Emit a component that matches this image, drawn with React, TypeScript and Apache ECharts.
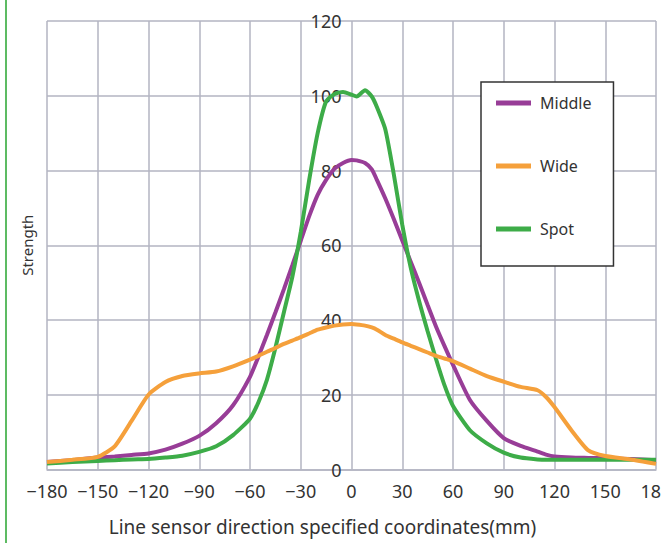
import React, { useEffect, useRef } from "react";
import * as echarts from "echarts";

const xCoords = [-180, -165, -150, -140, -130, -120, -110, -100, -90, -80, -70, -60, -55, -50, -45, -40, -35, -30, -25, -20, -15, -10, -5, 0, 3, 8, 12, 15, 20, 25, 30, 35, 40, 45, 50, 55, 60, 70, 80, 90, 100, 110, 115, 120, 130, 140, 150, 165, 180];

const middleValues = [2.0, 2.5, 3.2, 3.5, 3.9, 4.3, 5.3, 6.9, 9.0, 12.4, 17.2, 24.8, 30.2, 36.0, 42.0, 48.2, 54.6, 61.2, 67.8, 73.5, 77.5, 80.5, 82.0, 82.8, 82.7, 82.0, 80.3, 77.5, 72.5, 67.0, 61.3, 55.6, 49.9, 44.0, 38.2, 33.0, 28.0, 18.6, 13.0, 8.4, 6.3, 4.8, 4.0, 3.5, 3.2, 3.1, 3.0, 2.8, 2.5];

const wideValues = [2.0, 2.6, 3.4, 6.2, 13.0, 20.0, 23.4, 25.0, 25.7, 26.2, 27.6, 29.4, 30.4, 31.5, 32.5, 33.6, 34.5, 35.4, 36.4, 37.4, 38.0, 38.5, 38.8, 38.9, 38.8, 38.5, 38.0, 37.4, 36.0, 35.0, 34.0, 33.1, 32.2, 31.3, 30.4, 29.7, 29.0, 27.0, 25.0, 23.5, 22.1, 21.2, 19.4, 16.7, 10.5, 5.1, 3.6, 2.7, 1.5];

const spotValues = [1.6, 2.0, 2.3, 2.5, 2.7, 2.8, 3.2, 3.7, 4.7, 6.2, 9.2, 13.6, 18.0, 24.0, 32.5, 42.0, 51.5, 63.5, 77.5, 90.0, 98.5, 100.5, 101.0, 100.3, 99.8, 101.5, 99.8, 97.0, 91.0, 79.0, 65.5, 54.0, 45.0, 37.0, 29.5, 22.5, 17.0, 10.5, 7.0, 4.5, 3.2, 2.7, 2.6, 2.6, 2.6, 2.6, 2.6, 2.6, 2.6];

const seriesNames = ["Middle", "Wide", "Spot"];
const seriesColors = ["#983d97", "#f5a03b", "#3dac48"];
const xAxisTitle = "Line sensor direction specified coordinates(mm)";
const yAxisTitle = "Strength";

const FONT = "Noto Sans";

export default function App() {
  const ref = useRef<HTMLDivElement>(null);

  useEffect(() => {
    const chart = echarts.init(ref.current as HTMLDivElement, null, { renderer: "svg" });
    const pair = (vals: number[]) => xCoords.map((x, i) => [x, vals[i]]);
    const mkSeries = (idx: number, vals: number[]) => ({
      name: seriesNames[idx],
      type: "line",
      data: pair(vals),
      showSymbol: false,
      smooth: 0.2,
      lineStyle: { color: seriesColors[idx], width: 4 },
      itemStyle: { color: seriesColors[idx] },
    });
    const gridColor = "#b3b5c2";
    const gridLeft = 47;
    const gridRight = 5;
    const plotWidth = 661 - gridLeft - gridRight;
    chart.setOption({
      animation: false,
      backgroundColor: "#ffffff",
      textStyle: { fontFamily: FONT },
      grid: { left: gridLeft, right: gridRight, top: 21, bottom: 73.5, containLabel: false, outerBoundsMode: "none" },
      legend: {
        orient: "vertical",
        left: 481,
        top: 82,
        data: seriesNames,
        icon: "rect",
        itemWidth: 35,
        itemHeight: 5,
        itemGap: 47,
        padding: [13, 22, 29, 15],
        backgroundColor: "#ffffff",
        borderColor: "#333333",
        borderWidth: 1.5,
        textStyle: { fontSize: 16, color: "#333333", fontFamily: FONT, lineHeight: 16, padding: [0, 0, 0, 4] },
      },
      xAxis: {
        type: "value",
        min: -180,
        max: 180,
        interval: 30,
        name: xAxisTitle,
        nameLocation: "middle",
        nameGap: 48,
        nameTextStyle: { fontSize: 19, color: "#333333", fontFamily: FONT, padding: [0, 58, 0, 0] },
        axisLine: { show: true, lineStyle: { color: gridColor, width: 1.5 } },
        axisTick: { show: false },
        axisLabel: {
          fontSize: 18,
          color: "#333333",
          margin: 12,
          fontFamily: FONT,
          hideOverlap: false,
          formatter: (v: number) => (v < 0 ? "\u2212" + Math.abs(v) : String(v)),
        },
        splitLine: { show: true, lineStyle: { color: gridColor, width: 1.5 } },
      },
      yAxis: {
        type: "value",
        min: 0,
        max: 120,
        interval: 20,
        position: "left",
        offset: -plotWidth / 2,
        name: yAxisTitle,
        nameLocation: "middle",
        nameGap: 317,
        nameRotate: 90,
        nameTextStyle: { fontSize: 15, color: "#333333", fontFamily: FONT },
        axisLine: { show: false, onZero: false },
        axisTick: { show: false },
        axisLabel: { fontSize: 18, color: "#333333", margin: 10, fontFamily: FONT },
        splitLine: { show: true, lineStyle: { color: gridColor, width: 1.5 } },
      },
      graphic: [
        {
          type: "line",
          shape: { x1: 6, y1: 0, x2: 6, y2: 543 },
          style: { stroke: "#5dbb63", lineWidth: 2 },
        },
      ],
      series: [mkSeries(0, middleValues), mkSeries(2, spotValues), mkSeries(1, wideValues)],
    });
    return () => chart.dispose();
  }, []);

  return (
    <div
      ref={ref}
      style={{ position: "absolute", left: 0, top: 0, width: 661, height: 543, background: "#ffffff" }}
    />
  );
}
